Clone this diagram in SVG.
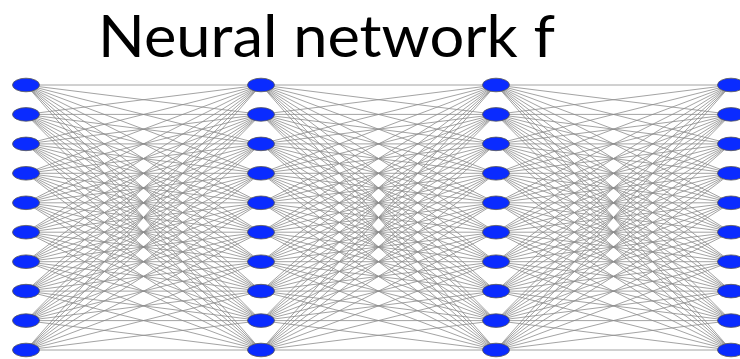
<svg xmlns="http://www.w3.org/2000/svg" xmlns:xlink="http://www.w3.org/1999/xlink" width="740" height="359" viewBox="0 0 740 359">
<style>
.t{font-family:Lato,"Open Sans","Liberation Sans",sans-serif;font-size:58px;fill:#000}
.e{stroke:#8c8c8c;stroke-width:0.8;fill:none}
.n{fill:#0a2bff;stroke:#555;stroke-width:0.8}
</style>
<defs>
<path id="fc" class="e" d="M26 85L261 85M26 85L261 114.4M26 85L261 143.9M26 85L261 173.3M26 85L261 202.8M26 85L261 232.2M26 85L261 261.7M26 85L261 291.1M26 85L261 320.6M26 85L261 350
M26 114.4L261 85M26 114.4L261 114.4M26 114.4L261 143.9M26 114.4L261 173.3M26 114.4L261 202.8M26 114.4L261 232.2M26 114.4L261 261.7M26 114.4L261 291.1M26 114.4L261 320.6M26 114.4L261 350
M26 143.9L261 85M26 143.9L261 114.4M26 143.9L261 143.9M26 143.9L261 173.3M26 143.9L261 202.8M26 143.9L261 232.2M26 143.9L261 261.7M26 143.9L261 291.1M26 143.9L261 320.6M26 143.9L261 350
M26 173.3L261 85M26 173.3L261 114.4M26 173.3L261 143.9M26 173.3L261 173.3M26 173.3L261 202.8M26 173.3L261 232.2M26 173.3L261 261.7M26 173.3L261 291.1M26 173.3L261 320.6M26 173.3L261 350
M26 202.8L261 85M26 202.8L261 114.4M26 202.8L261 143.9M26 202.8L261 173.3M26 202.8L261 202.8M26 202.8L261 232.2M26 202.8L261 261.7M26 202.8L261 291.1M26 202.8L261 320.6M26 202.8L261 350
M26 232.2L261 85M26 232.2L261 114.4M26 232.2L261 143.9M26 232.2L261 173.3M26 232.2L261 202.8M26 232.2L261 232.2M26 232.2L261 261.7M26 232.2L261 291.1M26 232.2L261 320.6M26 232.2L261 350
M26 261.7L261 85M26 261.7L261 114.4M26 261.7L261 143.9M26 261.7L261 173.3M26 261.7L261 202.8M26 261.7L261 232.2M26 261.7L261 261.7M26 261.7L261 291.1M26 261.7L261 320.6M26 261.7L261 350
M26 291.1L261 85M26 291.1L261 114.4M26 291.1L261 143.9M26 291.1L261 173.3M26 291.1L261 202.8M26 291.1L261 232.2M26 291.1L261 261.7M26 291.1L261 291.1M26 291.1L261 320.6M26 291.1L261 350
M26 320.6L261 85M26 320.6L261 114.4M26 320.6L261 143.9M26 320.6L261 173.3M26 320.6L261 202.8M26 320.6L261 232.2M26 320.6L261 261.7M26 320.6L261 291.1M26 320.6L261 320.6M26 320.6L261 350
M26 350L261 85M26 350L261 114.4M26 350L261 143.9M26 350L261 173.3M26 350L261 202.8M26 350L261 232.2M26 350L261 261.7M26 350L261 291.1M26 350L261 320.6M26 350L261 350"/>
<ellipse id="nd" class="n" cx="0" cy="0" rx="13.5" ry="6.8"/>
</defs>
<text class="t" x="98" y="57" textLength="457" lengthAdjust="spacingAndGlyphs">Neural network f</text>
<g id="connectors">
<use xlink:href="#fc"/>
<use xlink:href="#fc" x="235"/>
<use xlink:href="#fc" x="470"/>
</g>
<g id="layer1">
<g id="n1-1"><use xlink:href="#nd" x="26" y="85"/></g>
<g id="n1-2"><use xlink:href="#nd" x="26" y="114.4"/></g>
<g id="n1-3"><use xlink:href="#nd" x="26" y="143.9"/></g>
<g id="n1-4"><use xlink:href="#nd" x="26" y="173.3"/></g>
<g id="n1-5"><use xlink:href="#nd" x="26" y="202.8"/></g>
<g id="n1-6"><use xlink:href="#nd" x="26" y="232.2"/></g>
<g id="n1-7"><use xlink:href="#nd" x="26" y="261.7"/></g>
<g id="n1-8"><use xlink:href="#nd" x="26" y="291.1"/></g>
<g id="n1-9"><use xlink:href="#nd" x="26" y="320.6"/></g>
<g id="n1-10"><use xlink:href="#nd" x="26" y="350"/></g>
</g>
<g id="layer2">
<g id="n2-1"><use xlink:href="#nd" x="261" y="85"/></g>
<g id="n2-2"><use xlink:href="#nd" x="261" y="114.4"/></g>
<g id="n2-3"><use xlink:href="#nd" x="261" y="143.9"/></g>
<g id="n2-4"><use xlink:href="#nd" x="261" y="173.3"/></g>
<g id="n2-5"><use xlink:href="#nd" x="261" y="202.8"/></g>
<g id="n2-6"><use xlink:href="#nd" x="261" y="232.2"/></g>
<g id="n2-7"><use xlink:href="#nd" x="261" y="261.7"/></g>
<g id="n2-8"><use xlink:href="#nd" x="261" y="291.1"/></g>
<g id="n2-9"><use xlink:href="#nd" x="261" y="320.6"/></g>
<g id="n2-10"><use xlink:href="#nd" x="261" y="350"/></g>
</g>
<g id="layer3">
<g id="n3-1"><use xlink:href="#nd" x="496" y="85"/></g>
<g id="n3-2"><use xlink:href="#nd" x="496" y="114.4"/></g>
<g id="n3-3"><use xlink:href="#nd" x="496" y="143.9"/></g>
<g id="n3-4"><use xlink:href="#nd" x="496" y="173.3"/></g>
<g id="n3-5"><use xlink:href="#nd" x="496" y="202.8"/></g>
<g id="n3-6"><use xlink:href="#nd" x="496" y="232.2"/></g>
<g id="n3-7"><use xlink:href="#nd" x="496" y="261.7"/></g>
<g id="n3-8"><use xlink:href="#nd" x="496" y="291.1"/></g>
<g id="n3-9"><use xlink:href="#nd" x="496" y="320.6"/></g>
<g id="n3-10"><use xlink:href="#nd" x="496" y="350"/></g>
</g>
<g id="layer4">
<g id="n4-1"><use xlink:href="#nd" x="731" y="85"/></g>
<g id="n4-2"><use xlink:href="#nd" x="731" y="114.4"/></g>
<g id="n4-3"><use xlink:href="#nd" x="731" y="143.9"/></g>
<g id="n4-4"><use xlink:href="#nd" x="731" y="173.3"/></g>
<g id="n4-5"><use xlink:href="#nd" x="731" y="202.8"/></g>
<g id="n4-6"><use xlink:href="#nd" x="731" y="232.2"/></g>
<g id="n4-7"><use xlink:href="#nd" x="731" y="261.7"/></g>
<g id="n4-8"><use xlink:href="#nd" x="731" y="291.1"/></g>
<g id="n4-9"><use xlink:href="#nd" x="731" y="320.6"/></g>
<g id="n4-10"><use xlink:href="#nd" x="731" y="350"/></g>
</g>
</svg>
